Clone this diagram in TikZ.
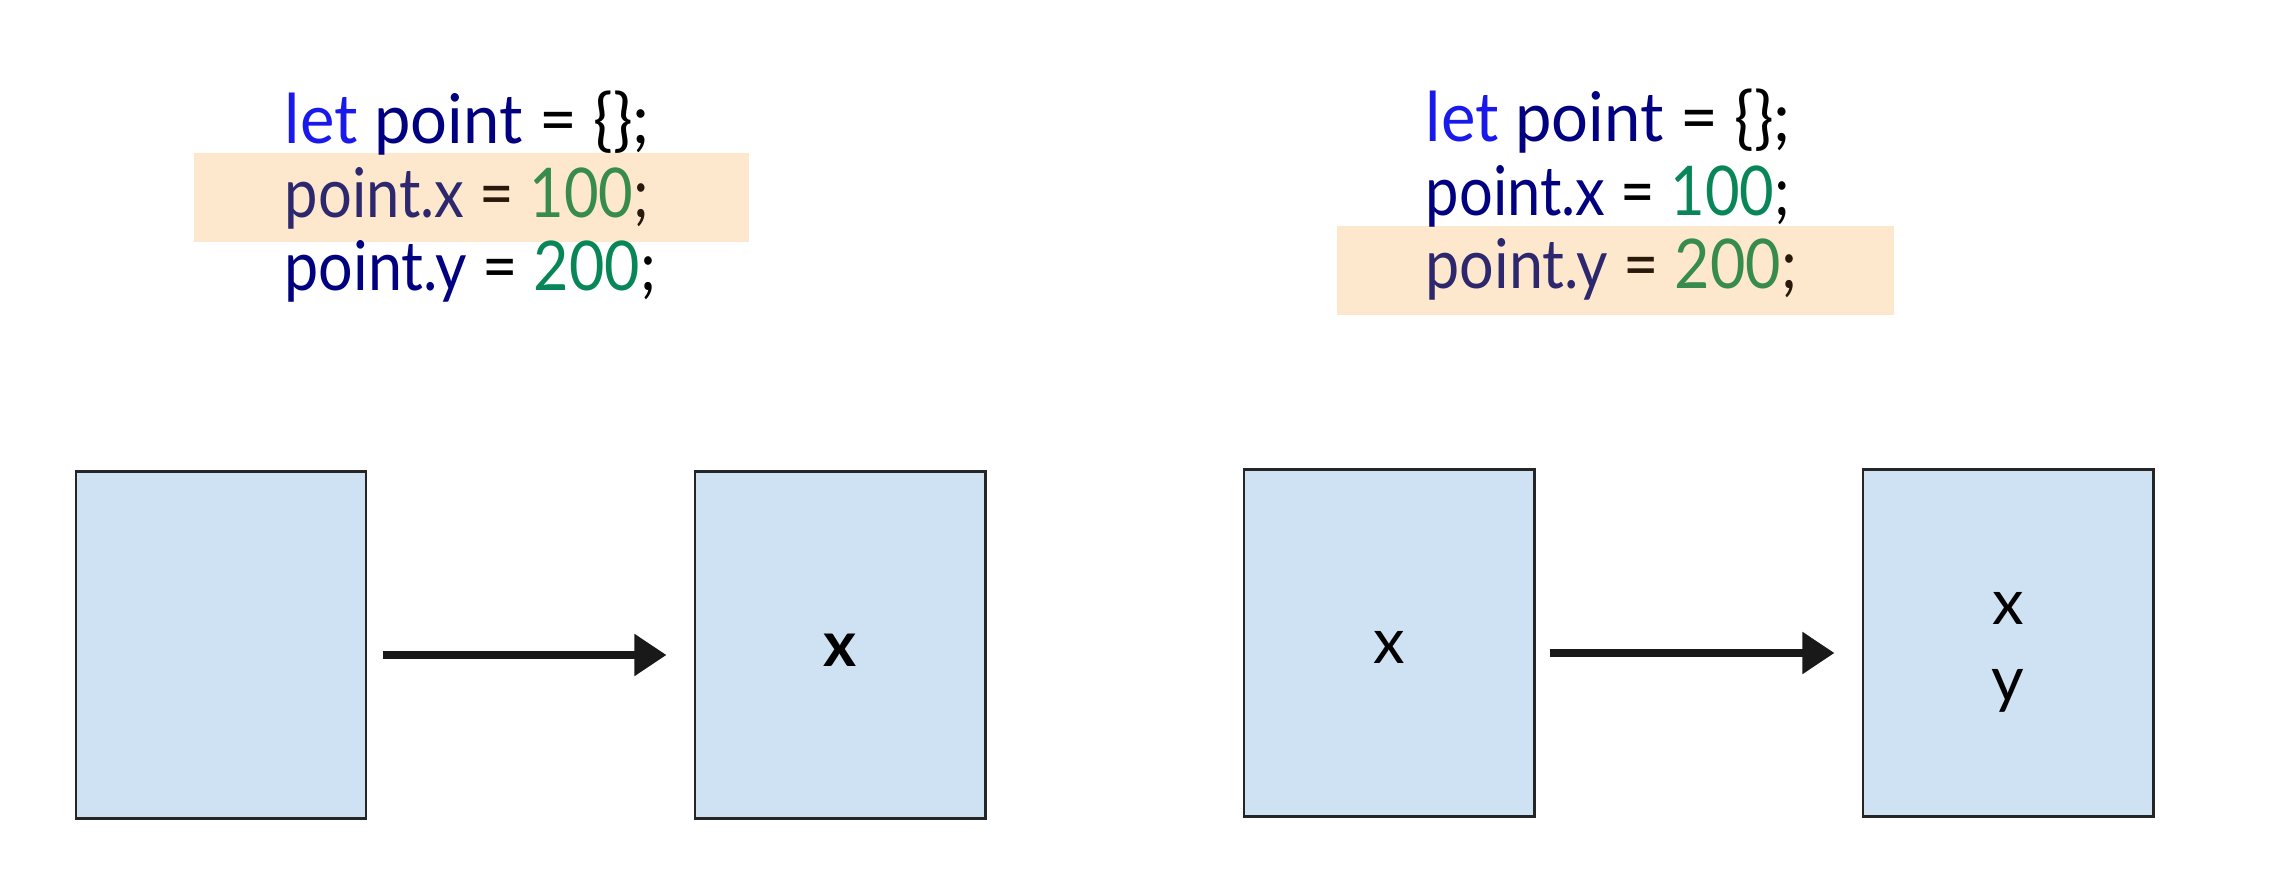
\documentclass[tikz,border=0pt]{standalone}
\usepackage{fontspec}
\newfontfamily\codefont{Lato}
\usetikzlibrary{arrows.meta}
\definecolor{kwblue}{RGB}{25,25,235}
\definecolor{idnavy}{RGB}{0,0,128}
\definecolor{numgreen}{RGB}{9,134,88}
\definecolor{hlfill}{RGB}{253,232,206}
\definecolor{hlnavy}{RGB}{45,40,110}
\definecolor{hlgreen}{RGB}{55,140,75}
\definecolor{hlpunct}{RGB}{40,25,10}
\definecolor{boxfill}{RGB}{207,226,243}
\begin{document}
\begin{tikzpicture}[x=0.01cm,y=-0.01cm,
  codeline/.style={anchor=base west,inner sep=0pt,font=\codefont\fontsize{19.5}{23}\selectfont},
  hlbox/.style={fill=hlfill},
  membox/.style={draw=black!85,line width=0.8pt,fill=boxfill,minimum width=2.9cm,minimum height=3.46cm,inner sep=0pt},
  lbl/.style={anchor=base,inner sep=0pt,font=\codefont\fontsize{18}{22}\selectfont},
  arr/.style={line width=2.4pt,black!90,-{Triangle[length=0.32cm,width=0.40cm]}}]
\useasboundingbox (0,0) rectangle (2284,880);
% highlights
\fill[hlbox] (194,153) rectangle (749,242);
\fill[hlbox] (1337,226) rectangle (1894,315);
% left code
\node[codeline] (l1) at (284,144) {\scalebox{0.95}[1]{\textcolor{kwblue}{let} \textcolor{idnavy}{point} = \{\};}};
\node[codeline] (l2) at (284,218) {\scalebox{0.87}[1]{\textcolor{hlnavy}{point.x} \textcolor{hlpunct}{=} \textcolor{hlgreen}{100}\textcolor{hlpunct}{;}}};
\node[codeline] (l3) at (284,291) {\scalebox{0.89}[1]{\textcolor{idnavy}{point.y} = \textcolor{numgreen}{200};}};
% right code
\node[codeline] (r1) at (1425,142) {\scalebox{0.95}[1]{\textcolor{kwblue}{let} \textcolor{idnavy}{point} = \{\};}};
\node[codeline] (r2) at (1425,216) {\scalebox{0.87}[1]{\textcolor{idnavy}{point.x} = \textcolor{numgreen}{100};}};
\node[codeline] (r3) at (1425,289) {\scalebox{0.89}[1]{\textcolor{hlnavy}{point.y} \textcolor{hlpunct}{=} \textcolor{hlgreen}{200}\textcolor{hlpunct}{;}}};
% boxes
\node[membox] (b1) at (221,645) {};
\node[membox] (b2) at (840,645) {};
\node[membox] (b3) at (1389,643) {};
\node[membox] (b4) at (2008,643) {};
% labels
\node[lbl,font=\codefont\bfseries\fontsize{18}{22}\selectfont] (x2) at (840,667) {x};
\node[lbl] (x3) at (1389,664) {x};
\node[lbl] (x4) at (2008,625) {x};
\node[lbl] (y4) at (2008,702) {y};
% arrows
\draw[arr] ([xshift=0.15cm,yshift=-0.1cm]b1.east) -- ([xshift=-0.27cm,yshift=-0.1cm]b2.west);
\draw[arr] ([xshift=0.14cm,yshift=-0.1cm]b3.east) -- ([xshift=-0.27cm,yshift=-0.1cm]b4.west);
\end{tikzpicture}
\end{document}
